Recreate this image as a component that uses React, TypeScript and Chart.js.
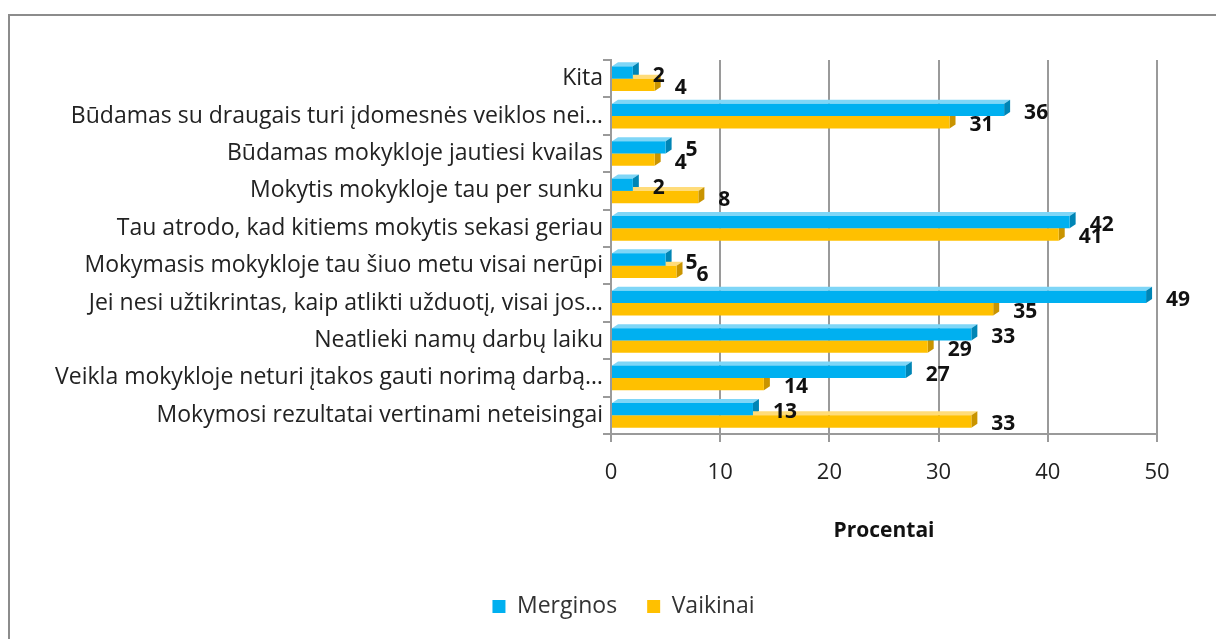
import React, { useEffect, useRef } from 'react';
import { Chart, registerables } from 'chart.js';

Chart.register(...registerables);

const categories: string[] = [
  'Kita',
  'Būdamas su draugais turi įdomesnės veiklos nei…',
  'Būdamas mokykloje jautiesi kvailas',
  'Mokytis mokykloje tau per sunku',
  'Tau atrodo, kad kitiems mokytis sekasi geriau',
  'Mokymasis mokykloje tau šiuo metu visai nerūpi',
  'Jei nesi užtikrintas, kaip atlikti užduotį, visai jos…',
  'Neatlieki namų darbų laiku',
  'Veikla mokykloje neturi įtakos gauti norimą darbą…',
  'Mokymosi rezultatai vertinami neteisingai',
];
const merginos: number[] = [2, 36, 5, 2, 42, 5, 49, 33, 27, 13];
const vaikinai: number[] = [4, 31, 4, 8, 41, 6, 35, 29, 14, 33];
const seriesNames: string[] = ['Merginos', 'Vaikinai'];
const xMin = 0;
const xMax = 50;
const xStep = 10;
const axisTitle = 'Procentai';

const FONT = '"Open Sans", Lato, sans-serif';
const DX = 6;
const DY = 4;
const faceColors = [
  { top: '#7fd6f7', side: '#0085b5' },
  { top: '#ffdc7a', side: '#c99400' },
];

const depthFaces = {
  id: 'depthFaces',
  beforeDatasetsDraw(chart: any) {
    const ctx = chart.ctx;
    ctx.save();
    chart.data.datasets.forEach((_ds: any, i: number) => {
      const meta = chart.getDatasetMeta(i);
      meta.data.forEach((bar: any) => {
        const { x, y, base, height } = bar.getProps(['x', 'y', 'base', 'height']);
        const top = y - height / 2;
        const bottom = y + height / 2;
        ctx.fillStyle = faceColors[i].top;
        ctx.beginPath();
        ctx.moveTo(base, top);
        ctx.lineTo(base + DX, top - DY);
        ctx.lineTo(x + DX, top - DY);
        ctx.lineTo(x, top);
        ctx.closePath();
        ctx.fill();
        ctx.fillStyle = faceColors[i].side;
        ctx.beginPath();
        ctx.moveTo(x, top);
        ctx.lineTo(x + DX, top - DY);
        ctx.lineTo(x + DX, bottom - DY);
        ctx.lineTo(x, bottom);
        ctx.closePath();
        ctx.fill();
      });
    });
    ctx.restore();
  },
};

const valueLabels = {
  id: 'valueLabels',
  afterDatasetsDraw(chart: any) {
    const ctx = chart.ctx;
    ctx.save();
    ctx.font = `bold 21px ${FONT}`;
    ctx.fillStyle = '#111';
    ctx.textBaseline = 'middle';
    ctx.textAlign = 'left';
    chart.data.datasets.forEach((ds: any, i: number) => {
      const meta = chart.getDatasetMeta(i);
      meta.data.forEach((bar: any, j: number) => {
        ctx.fillText(String(ds.data[j]), bar.x + 20, bar.y + 3);
      });
    });
    ctx.restore();
  },
};

// centre the legend on the whole canvas rather than on the padded layout area
const legendShift = {
  id: 'legendShift',
  afterLayout(chart: any) {
    const lg = chart.legend;
    if (lg) {
      lg.left += 80;
      lg.width = lg.right - lg.left;
    }
  },
};

export default function App() {
  const ref = useRef<HTMLCanvasElement | null>(null);
  useEffect(() => {
    if (!ref.current) return;
    const chart = new Chart(ref.current, {
      type: 'bar',
      data: {
        labels: categories,
        datasets: [
          {
            label: seriesNames[0],
            data: merginos,
            backgroundColor: '#00B0F0',
            borderWidth: 0,
            categoryPercentage: 0.66,
            barPercentage: 1.0,
          },
          {
            label: seriesNames[1],
            data: vaikinai,
            backgroundColor: '#FFC000',
            borderWidth: 0,
            categoryPercentage: 0.66,
            barPercentage: 1.0,
          },
        ],
      },
      options: {
        indexAxis: 'y',
        animation: false,
        responsive: false,
        devicePixelRatio: 1,
        layout: { padding: { top: 44, right: 59, left: 0, bottom: 11 } },
        scales: {
          x: {
            min: xMin,
            max: xMax,
            ticks: {
              stepSize: xStep,
              color: '#222',
              font: { family: FONT, size: 22 },
              padding: 18,
            },
            grid: {
              color: '#9a9a9a',
              lineWidth: 2,
              tickLength: 8,
              drawOnChartArea: true,
            },
            border: { color: '#9a9a9a', width: 2 },
            title: {
              display: true,
              text: axisTitle,
              color: '#111',
              font: { family: FONT, size: 21, weight: 'bold' },
              padding: { top: 10, bottom: 21 },
            },
            afterFit(scale: any) {
              scale.height = 131;
            },
          },
          y: {
            ticks: {
              color: '#222',
              font: { family: FONT, size: 23 },
              padding: 0,
              autoSkip: false,
            },
            grid: {
              drawOnChartArea: false,
              color: '#9a9a9a',
              lineWidth: 2,
              tickLength: 8,
            },
            border: { color: '#9a9a9a', width: 2 },
            afterFit(scale: any) {
              scale.width = 601;
            },
          },
        },
        plugins: {
          legend: {
            position: 'bottom',
            labels: {
              boxWidth: 13,
              boxHeight: 13,
              padding: 30,
              color: '#333',
              font: { family: FONT, size: 23 },
            },
          },
          tooltip: { enabled: false },
        },
      },
      plugins: [depthFaces, valueLabels, legendShift],
    } as any);
    return () => chart.destroy();
  }, []);

  return (
    <div
      style={{
        position: 'absolute',
        left: 8,
        top: 14,
        width: 1208,
        height: 625,
        borderTop: '2px solid #8c8c8c',
        borderLeft: '2px solid #8c8c8c',
        boxSizing: 'border-box',
        background: '#fff',
        overflow: 'hidden',
      }}
    >
      <canvas ref={ref} width={1206} height={623} style={{ display: 'block', width: 1206, height: 623 }} />
    </div>
  );
}
